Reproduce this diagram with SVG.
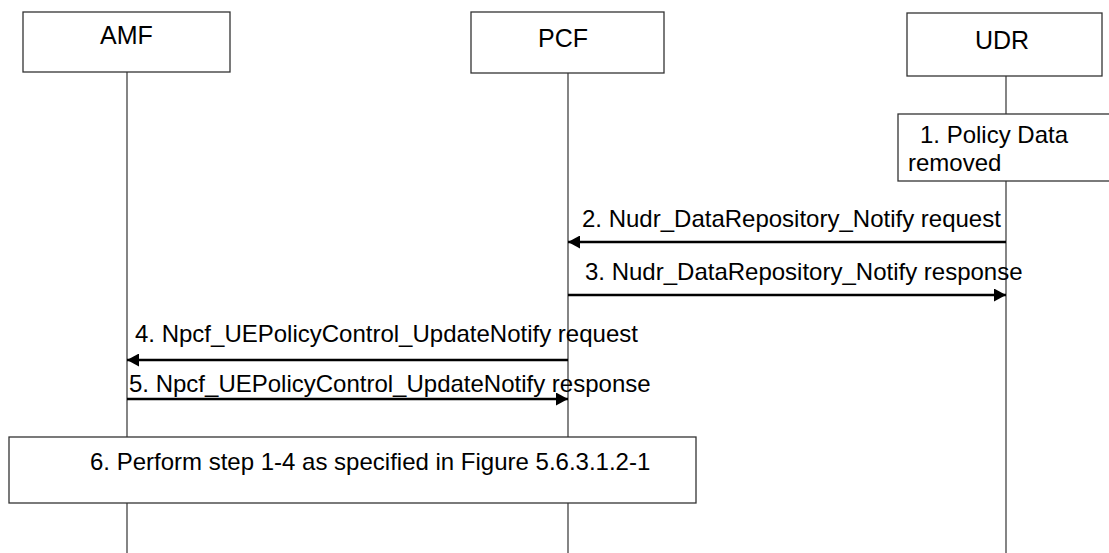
<svg xmlns="http://www.w3.org/2000/svg" width="1109" height="553" viewBox="0 0 1109 553">
<style>
.box{fill:#fff;stroke:#333;stroke-width:1.3}
.life{stroke:#333;stroke-width:1.2;fill:none}
.msg{stroke:#000;stroke-width:2.6;fill:none}
.t{font-family:"Liberation Sans",Arial,sans-serif;font-size:24px;fill:#000}
.n{font-family:"Liberation Sans",Arial,sans-serif;font-size:25px;fill:#000;text-anchor:middle}
</style>
<defs>
<marker id="ah" viewBox="0 0 12 13" refX="12" refY="6.5" markerWidth="12" markerHeight="13" markerUnits="userSpaceOnUse" orient="auto">
<path d="M0,0 L12,6.5 L0,13 Z" fill="#000"/>
</marker>
</defs>
<rect width="1109" height="553" fill="#fff"/>
<g id="lifelines">
<line class="life" x1="127" y1="72" x2="127" y2="553"/>
<line class="life" x1="568" y1="73" x2="568" y2="553"/>
<line class="life" x1="1006" y1="76" x2="1006" y2="553"/>
</g>
<g id="AMF">
<rect class="box" x="23" y="12" width="207" height="60"/>
<text class="n" x="126.5" y="44">AMF</text>
</g>
<g id="PCF">
<rect class="box" x="471" y="12" width="193" height="61"/>
<text class="n" x="563" y="47">PCF</text>
</g>
<g id="UDR">
<rect class="box" x="907" y="13" width="195" height="63"/>
<text class="n" x="1002" y="49">UDR</text>
</g>
<g id="step1">
<rect class="box" x="898" y="114" width="215" height="67"/>
<text class="t" x="920" y="143">1. Policy Data</text>
<text class="t" x="908" y="171">removed</text>
</g>
<g id="connectors">
<line class="msg" x1="1006" y1="242" x2="568" y2="242" marker-end="url(#ah)"/>
<line class="msg" x1="568" y1="295" x2="1006" y2="295" marker-end="url(#ah)"/>
<line class="msg" x1="568" y1="360" x2="127" y2="360" marker-end="url(#ah)"/>
<line class="msg" x1="127" y1="399" x2="568" y2="399" marker-end="url(#ah)"/>
</g>
<g id="labels">
<text class="t" x="582" y="227">2. Nudr_DataRepository_Notify request</text>
<text class="t" x="585" y="280">3. Nudr_DataRepository_Notify response</text>
<text class="t" x="135" y="342">4. Npcf_UEPolicyControl_UpdateNotify request</text>
<text class="t" x="129" y="392">5. Npcf_UEPolicyControl_UpdateNotify response</text>
</g>
<g id="step6">
<rect class="box" x="9" y="437" width="687" height="66"/>
<text class="t" x="90" y="470">6. Perform step 1-4 as specified in Figure 5.6.3.1.2-1</text>
</g>
</svg>
